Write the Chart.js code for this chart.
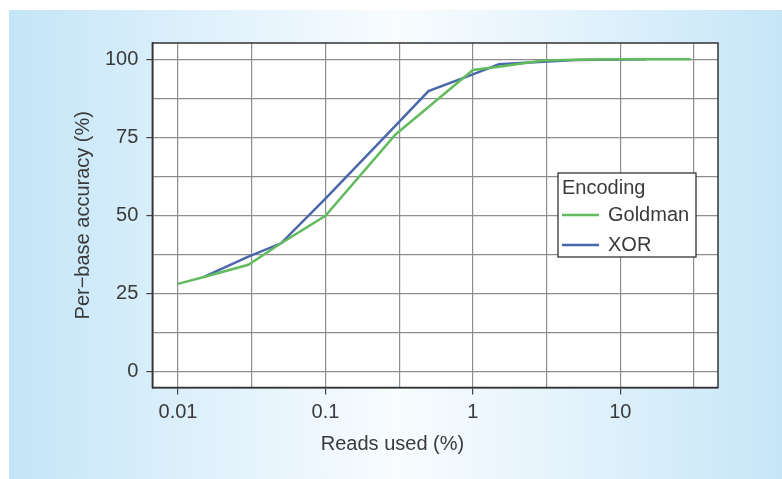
<!DOCTYPE html>
<html lang="en">
<head>
    <meta charset="UTF-8">
    <title>Per-base accuracy vs reads used</title>
    <script src="https://cdn.jsdelivr.net/npm/chart.js"></script>
    <style>
        html, body { margin: 0; padding: 0; background: #fff; }
        .panel {
            position: absolute; left: 9px; top: 10px; width: 773px; height: 469px;
            background: linear-gradient(to right, #c4e5f8 0%, #e4f3fc 30%, #f8fcfe 50%, #e4f3fc 72%, #c6e6f8 100%);
        }
        canvas { display: block; }
    </style>
</head>
<body>
<div class="panel"><canvas id="accuracyChart" width="773" height="469"></canvas></div>

<script>
    const goldmanReads = [0.01, 0.015, 0.03, 0.05, 0.1, 0.3, 0.5, 1, 1.5, 3, 5, 10, 30];
    const goldmanAccuracy = [28, 30.2, 34.1, 41, 49.8, 76, 84.7, 96.6, 97.6, 99.6, 99.9, 100, 100];
    const xorReads = [0.015, 0.03, 0.05, 0.1, 0.3, 0.5, 1, 1.5, 3, 5, 15];
    const xorAccuracy = [30.2, 36.7, 41, 55.3, 78.8, 89.8, 95.2, 98.4, 99.2, 99.8, 100];

    const xMajorTicks = [0.01, 0.1, 1, 10];
    const xMinorTicks = [0.0316, 0.316, 3.16, 31.6];
    const yMajorTicks = [0, 25, 50, 75, 100];
    const yMinorTicks = [12.5, 37.5, 62.5, 87.5];

    const seriesNames = ['Goldman', 'XOR'];
    const seriesColors = ['#62bb5c', '#4a68a9'];
    const legendTitle = 'Encoding';

    const textColor = '#3a3a3a';
    const fontFamily = '"Liberation Sans", Arial, sans-serif';
    const gridColor = '#8e8e8e';

    const toPoints = (xs, ys) => xs.map((x, i) => ({ x: x, y: ys[i] }));

    // white plot panel, box round it and the legend inside it
    const framePlugin = {
        id: 'frame',
        beforeDraw(chart) {
            const a = chart.chartArea;
            chart.ctx.save();
            chart.ctx.fillStyle = '#fff';
            chart.ctx.fillRect(a.left, a.top, a.right - a.left, a.bottom - a.top);
            chart.ctx.restore();
        },
        afterDraw(chart) {
            const ctx = chart.ctx;
            const a = chart.chartArea;
            ctx.save();
            ctx.strokeStyle = '#333';
            ctx.lineWidth = 1.5;
            ctx.strokeRect(a.left, a.top, a.right - a.left, a.bottom - a.top);

            const lx = 549, ly = 163, lw = 138, lh = 84;
            ctx.fillStyle = '#fff';
            ctx.fillRect(lx, ly, lw, lh);
            ctx.strokeStyle = '#222';
            ctx.lineWidth = 1.2;
            ctx.strokeRect(lx, ly, lw, lh);

            ctx.fillStyle = textColor;
            ctx.font = '20px ' + fontFamily;
            ctx.textBaseline = 'middle';
            ctx.fillText(legendTitle, lx + 4, ly + 15);
            chart.data.datasets.forEach((ds, i) => {
                const y = ly + 42 + i * 30;
                ctx.strokeStyle = ds.borderColor;
                ctx.lineWidth = 2.5;
                ctx.beginPath();
                ctx.moveTo(lx + 4, y);
                ctx.lineTo(lx + 41, y);
                ctx.stroke();
                ctx.fillText(ds.label, lx + 50, y);
            });
            ctx.restore();
        }
    };

    const chartConfig = {
        type: 'line',
        data: {
            datasets: [
                {
                    label: seriesNames[0],
                    data: toPoints(goldmanReads, goldmanAccuracy),
                    borderColor: seriesColors[0],
                    borderWidth: 2.5,
                    pointRadius: 0,
                    tension: 0,
                    fill: false
                },
                {
                    label: seriesNames[1],
                    data: toPoints(xorReads, xorAccuracy),
                    borderColor: seriesColors[1],
                    borderWidth: 2.5,
                    pointRadius: 0,
                    tension: 0,
                    fill: false
                }
            ]
        },
        options: {
            responsive: false,
            animation: false,
            layout: { padding: { left: 58, right: 64, top: 33, bottom: 9.5 } },
            plugins: {
                legend: { display: false },
                tooltip: { enabled: false },
                title: {
                    display: true,
                    position: 'bottom',
                    text: 'Reads used (%)',
                    color: textColor,
                    font: { family: fontFamily, size: 20, weight: 'normal' },
                    padding: { top: 2, bottom: 13 }
                }
            },
            scales: {
                x: {
                    type: 'logarithmic',
                    min: 0.0067,
                    max: 46,
                    afterBuildTicks: scale => {
                        scale.ticks = xMajorTicks.concat(xMinorTicks).sort((a, b) => a - b).map(v => ({ value: v }));
                    },
                    ticks: {
                        autoSkip: false,
                        maxRotation: 0,
                        padding: 6,
                        color: textColor,
                        font: { family: fontFamily, size: 20 },
                        callback: v => xMajorTicks.includes(v) ? String(v) : ''
                    },
                    grid: {
                        color: gridColor,
                        lineWidth: 1.2,
                        tickLength: 7,
                        tickColor: ctx => xMajorTicks.includes(ctx.tick.value) ? '#444' : 'rgba(0,0,0,0)'
                    },
                    border: { display: true, color: '#333', width: 1.5 }
                },
                y: {
                    type: 'linear',
                    min: -5.25,
                    max: 105.25,
                    afterBuildTicks: scale => {
                        scale.ticks = yMajorTicks.concat(yMinorTicks).sort((a, b) => a - b).map(v => ({ value: v }));
                    },
                    ticks: {
                        autoSkip: false,
                        padding: 8,
                        color: textColor,
                        font: { family: fontFamily, size: 20 },
                        callback: v => yMajorTicks.includes(v) ? String(v) : ''
                    },
                    grid: {
                        color: gridColor,
                        lineWidth: 1.2,
                        tickLength: 6,
                        tickColor: ctx => yMajorTicks.includes(ctx.tick.value) ? '#444' : 'rgba(0,0,0,0)'
                    },
                    border: { display: true, color: '#333', width: 1.5 },
                    title: {
                        display: true,
                        text: 'Per\u2212base accuracy (%)',
                        color: textColor,
                        font: { family: fontFamily, size: 20, weight: 'normal' },
                        padding: { top: 4, bottom: 2 }
                    }
                }
            }
        },
        plugins: [framePlugin]
    };

    const accuracyChartCanvas = document.getElementById('accuracyChart');
    const accuracyChart = new Chart(accuracyChartCanvas.getContext('2d'), chartConfig);
</script>
</body>
</html>
